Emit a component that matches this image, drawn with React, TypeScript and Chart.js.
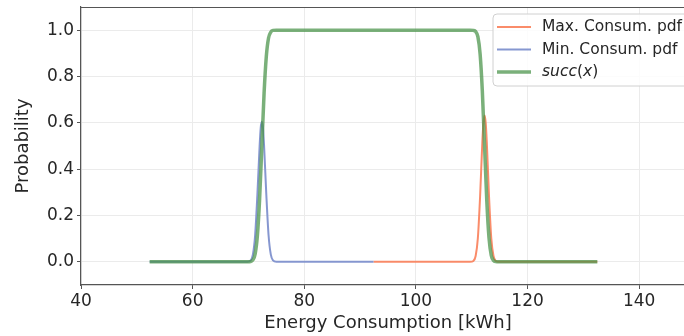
import React, { useEffect, useRef } from "react";
import { Chart, registerables } from "chart.js";

Chart.register(...registerables);

// ---- data ----
const MIN_X = [52.3, 69.8, 70.4, 70.8, 71.2, 71.6, 72.0, 72.2, 72.4, 72.6, 72.8, 73.2, 73.6, 74.0, 74.4, 75.0, 92.4];
const MIN_Y = [0, 0, 0.006, 0.032, 0.116, 0.29, 0.5, 0.58, 0.605, 0.58, 0.5, 0.29, 0.116, 0.032, 0.006, 0, 0];

const MAX_X = [92.4, 109.7, 110.3, 110.7, 111.1, 111.5, 111.9, 112.1, 112.3, 112.5, 112.7, 113.1, 113.5, 113.9, 114.3, 114.9, 132.5];
const MAX_Y = [0, 0, 0.004, 0.025, 0.103, 0.282, 0.516, 0.601, 0.632, 0.601, 0.516, 0.282, 0.103, 0.025, 0.004, 0, 0];

const SUCC_X = [52.3, 69.8, 70.4, 70.8, 71.2, 71.6, 72.0, 72.4, 72.8, 73.2, 73.6, 74.0, 74.4, 75.0, 92.4, 109.7, 110.3, 110.7, 111.1, 111.5, 111.9, 112.3, 112.7, 113.1, 113.5, 113.9, 114.3, 114.9, 132.5];
const SUCC_Y = [0, 0, 0.001, 0.008, 0.034, 0.113, 0.272, 0.5, 0.728, 0.887, 0.966, 0.992, 0.999, 1, 1, 1, 0.999, 0.994, 0.972, 0.898, 0.737, 0.5, 0.263, 0.102, 0.028, 0.006, 0.001, 0, 0];

const X_TICKS = [40, 60, 80, 100, 120, 140];
const Y_TICKS = [0.0, 0.2, 0.4, 0.6, 0.8, 1.0];

const LABEL_MAX = "Max. Consum. pdf";
const LABEL_MIN = "Min. Consum. pdf";
const LABEL_SUCC = "succ(x)";
const X_TITLE = "Energy Consumption [kWh]";
const Y_TITLE = "Probability";

// ---- styles ----
const FONT = "'DejaVu Sans', 'Liberation Sans', sans-serif";
const C_MAX = "rgba(250,128,90,0.9)";
const C_MIN = "rgba(128,145,205,0.95)";
const C_SUCC = "rgba(70,145,70,0.72)";
const TEXT = "#262626";
const SPINE = "#555555";
const GRID = "#ebebeb";
const LEG_FONT = 15.5;

const pts = (xs: number[], ys: number[]) => xs.map((x, i) => ({ x, y: ys[i] }));

const framePlugin = {
  id: "frameLegend",
  afterDraw(chart: any) {
    const { ctx, chartArea } = chart;
    ctx.save();
    // top spine
    ctx.strokeStyle = SPINE;
    ctx.lineWidth = 1.2;
    ctx.beginPath();
    ctx.moveTo(chartArea.left, chartArea.top + 0.5);
    ctx.lineTo(chartArea.right, chartArea.top + 0.5);
    ctx.stroke();

    // legend box
    const bx = 493, by = 14, bw = 205, bh = 72, r = 4;
    ctx.beginPath();
    ctx.moveTo(bx + r, by);
    ctx.lineTo(bx + bw - r, by);
    ctx.arcTo(bx + bw, by, bx + bw, by + r, r);
    ctx.lineTo(bx + bw, by + bh - r);
    ctx.arcTo(bx + bw, by + bh, bx + bw - r, by + bh, r);
    ctx.lineTo(bx + r, by + bh);
    ctx.arcTo(bx, by + bh, bx, by + bh - r, r);
    ctx.lineTo(bx, by + r);
    ctx.arcTo(bx, by, bx + r, by, r);
    ctx.closePath();
    ctx.fillStyle = "rgba(255,255,255,0.85)";
    ctx.fill();
    ctx.strokeStyle = "#d0d0d0";
    ctx.lineWidth = 1;
    ctx.stroke();

    const rows = [
      { label: LABEL_MAX, color: C_MAX, w: 2 },
      { label: LABEL_MIN, color: C_MIN, w: 2 },
      { label: LABEL_SUCC, color: C_SUCC, w: 3.5 },
    ];
    const rowY = [27, 49.5, 72];
    rows.forEach((row, i) => {
      const y = rowY[i];
      ctx.strokeStyle = row.color;
      ctx.lineWidth = row.w;
      ctx.beginPath();
      ctx.moveTo(497, y);
      ctx.lineTo(531, y);
      ctx.stroke();
      ctx.fillStyle = TEXT;
      ctx.textBaseline = "middle";
      ctx.textAlign = "left";
      if (i < 2) {
        ctx.font = `${LEG_FONT}px ${FONT}`;
        ctx.fillText(row.label, 542, y);
      } else {
        // mathtext-like: italic letters, upright parentheses
        const parts: [string, boolean][] = [["succ", true], ["(", false], ["x", true], [")", false]];
        let x = 542;
        parts.forEach(([t, it]) => {
          ctx.font = `${it ? "italic " : ""}${LEG_FONT}px ${FONT}`;
          ctx.fillText(t, x, y);
          x += ctx.measureText(t).width;
        });
      }
    });
    ctx.restore();
  },
};

export default function App() {
  const ref = useRef<HTMLCanvasElement | null>(null);

  useEffect(() => {
    if (!ref.current) return;
    const chart = new Chart(ref.current, {
      type: "line",
      data: {
        datasets: [
          {
            label: LABEL_SUCC,
            data: pts(SUCC_X, SUCC_Y),
            borderColor: C_SUCC,
            borderWidth: 3.5,
            pointRadius: 0,
            cubicInterpolationMode: "monotone",
            order: 0,
          },
          {
            label: LABEL_MIN,
            data: pts(MIN_X, MIN_Y),
            borderColor: C_MIN,
            borderWidth: 2,
            pointRadius: 0,
            cubicInterpolationMode: "monotone",
            order: 1,
          },
          {
            label: LABEL_MAX,
            data: pts(MAX_X, MAX_Y),
            borderColor: C_MAX,
            borderWidth: 2,
            pointRadius: 0,
            cubicInterpolationMode: "monotone",
            order: 2,
          },
        ],
      },
      options: {
        animation: false,
        responsive: true,
        maintainAspectRatio: false,
        devicePixelRatio: 1,
        layout: { padding: { top: 7, right: 0, left: 0, bottom: 0 } },
        plugins: { legend: { display: false }, tooltip: { enabled: false } },
        scales: {
          x: {
            type: "linear",
            min: 40,
            max: 150,
            afterBuildTicks: (s: any) => {
              s.ticks = X_TICKS.map((v) => ({ value: v }));
            },
            afterFit: (s: any) => {
              s.height = 51;
              s.paddingLeft = 0;
              s.paddingRight = 0;
            },
            ticks: {
              color: TEXT,
              font: { family: FONT, size: 17 },
              padding: 2,
              maxRotation: 0,
              callback: (v: any) => String(v),
            },
            grid: { color: GRID, tickColor: SPINE, tickLength: 4, lineWidth: 1 },
            border: { color: SPINE, width: 1.2 },
            title: {
              display: true,
              text: X_TITLE,
              color: TEXT,
              font: { family: FONT, size: 18 },
              padding: { top: 0, bottom: 2 },
            },
          },
          y: {
            type: "linear",
            min: -0.1,
            max: 1.1,
            afterBuildTicks: (s: any) => {
              s.ticks = Y_TICKS.map((v) => ({ value: v }));
            },
            afterFit: (s: any) => {
              s.width = 81;
              s.paddingTop = 0;
              s.paddingBottom = 0;
            },
            ticks: {
              color: TEXT,
              font: { family: FONT, size: 17 },
              padding: 3,
              callback: (v: any) => Number(v).toFixed(1),
            },
            grid: { color: GRID, tickColor: SPINE, tickLength: 4, lineWidth: 1 },
            border: { color: SPINE, width: 1.2 },
            title: {
              display: true,
              text: Y_TITLE,
              color: TEXT,
              font: { family: FONT, size: 18 },
              padding: { top: 13, bottom: 0 },
            },
          },
        },
      },
      plugins: [framePlugin],
    });
    return () => chart.destroy();
  }, []);

  return (
    <div style={{ position: "fixed", left: 0, top: 0, width: 684, height: 336, overflow: "hidden", background: "#fff" }}>
      <div style={{ position: "absolute", left: 0, top: 0, width: 695, height: 336 }}>
        <canvas ref={ref} />
      </div>
    </div>
  );
}
